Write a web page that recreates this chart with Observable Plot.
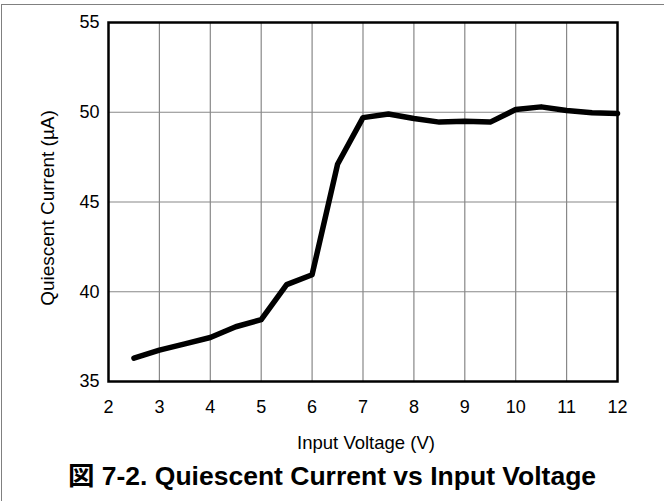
<!DOCTYPE html>
<html>
<head>
<meta charset="utf-8">
<script src="https://cdn.jsdelivr.net/npm/d3@7"></script>
<script src="https://cdn.jsdelivr.net/npm/@observablehq/plot@0.6"></script>
<style>
  html, body { margin: 0; padding: 0; background: #fff; }
  #wrap { position: relative; width: 664px; height: 501px; overflow: hidden; font-family: "Liberation Sans", Arial, "Noto Sans CJK JP", sans-serif; }
  #border { position: absolute; left: 1px; top: 4px; width: 700px; height: 600px; border-top: 1.5px solid #808080; border-left: 1.5px solid #808080; }
  #chart { position: absolute; left: 0; top: 0; }
  #title { position: absolute; left: 0; width: 664px; top: 460px; line-height: 32px; text-align: center; font-weight: bold; font-size: 26.5px; color: #000; font-family: "Liberation Sans", Arial, "Noto Sans CJK JP", sans-serif; }
</style>
</head>
<body>
<div id="wrap">
  <div id="border"></div>
  <div id="chart"></div>
  <div id="title">図 7-2. Quiescent Current vs Input Voltage</div>
</div>
<script>
const voltage = [2.5, 3, 3.5, 4, 4.5, 5, 5.5, 6, 6.5, 7, 7.5, 8, 8.5, 9, 9.5, 10, 10.5, 11, 11.5, 12];
const current = [36.3, 36.75, 37.1, 37.45, 38.05, 38.45, 40.4, 40.95, 47.1, 49.7, 49.9, 49.65, 49.45, 49.5, 49.45, 50.15, 50.3, 50.1, 49.97, 49.93];
const xTicks = [2, 3, 4, 5, 6, 7, 8, 9, 10, 11, 12];
const yTicks = [35, 40, 45, 50, 55];
const xGrid = [3, 4, 5, 6, 7, 8, 9, 10, 11];
const yGrid = [40, 45, 50];
const xLabel = "Input Voltage (V)";
const yLabel = "Quiescent Current (µA)";

const data = voltage.map((v, i) => ({v, c: current[i]}));

const chart = Plot.plot({
  width: 664,
  height: 455,
  marginLeft: 108,
  marginRight: 47,
  marginTop: 22,
  marginBottom: 74,
  style: {fontFamily: '"Liberation Sans", Arial, sans-serif', fontSize: "18px", color: "#000", background: "transparent"},
  x: {domain: [2, 12], ticks: xTicks, tickSize: 0, tickPadding: 19, label: null},
  y: {domain: [35, 55], ticks: yTicks, tickSize: 0, tickPadding: 9, label: null},
  marks: [
    Plot.gridX(xGrid, {stroke: "#888", strokeOpacity: 1, strokeWidth: 1.2}),
    Plot.gridY(yGrid, {stroke: "#888", strokeOpacity: 1, strokeWidth: 1.2}),
    Plot.line(data, {x: "v", y: "c", stroke: "#000", strokeWidth: 5.5, strokeLinejoin: "round", strokeLinecap: "round"}),
    Plot.frame({stroke: "#000", strokeWidth: 2.5}),
    Plot.text([xLabel], {frameAnchor: "bottom", dx: 3, dy: 62, text: d => d, fontSize: 18.5, textAnchor: "middle", lineAnchor: "middle", fill: "#000"}),
    Plot.text([yLabel], {frameAnchor: "left", dx: -61, dy: 6, rotate: -90, text: d => d, fontSize: 19, textAnchor: "middle", lineAnchor: "middle", fill: "#000"})
  ]
});
document.getElementById("chart").appendChild(chart);
</script>
</body>
</html>
